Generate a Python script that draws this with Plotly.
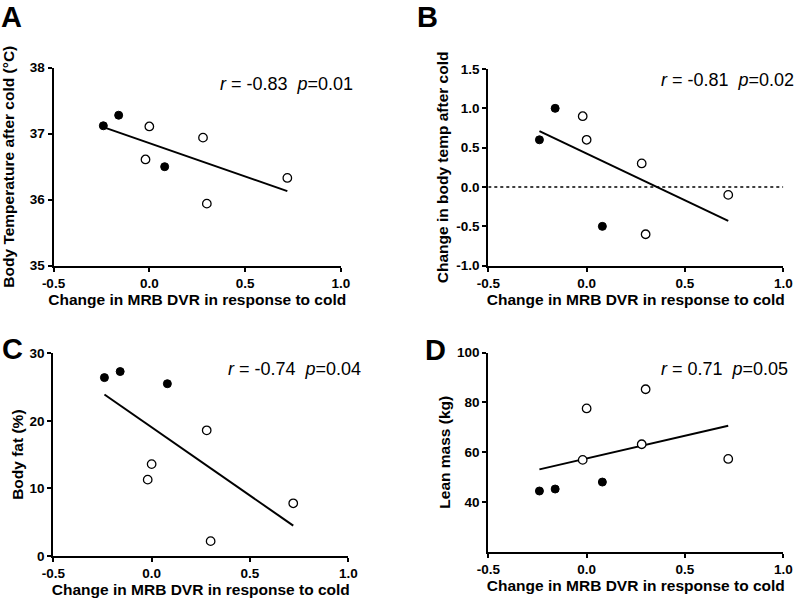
import plotly.graph_objects as go

# ---- data ----
x_filled = [-0.24, -0.16, 0.08]
x_open = [-0.02, 0.0, 0.28, 0.30, 0.72]
fit_x = [-0.24, 0.72]

a_filled = [37.12, 37.28, 36.50]
a_open = [36.61, 37.11, 36.94, 35.94, 36.33]
a_fit = [37.10, 36.13]

b_filled = [0.6, 1.0, -0.5]
b_open = [0.9, 0.6, 0.3, -0.6, -0.1]
b_fit = [0.71, -0.43]

c_filled = [26.4, 27.3, 25.5]
c_open = [11.3, 13.6, 18.6, 2.2, 7.8]
c_fit = [23.9, 4.5]

d_filled = [44.4, 45.2, 48.0]
d_open = [56.9, 77.6, 63.2, 85.3, 57.3]
d_fit = [53.1, 70.6]

stats = ["<i>r</i> = -0.83\u00a0\u00a0<i>p</i>=0.01",
         "<i>r</i> = -0.81\u00a0\u00a0<i>p</i>=0.02",
         "<i>r</i> = -0.74\u00a0\u00a0<i>p</i>=0.04",
         "<i>r</i> = 0.71\u00a0\u00a0<i>p</i>=0.05"]
letters = ["A", "B", "C", "D"]
x_title = "Change in MRB DVR in response to cold"
y_titles = ["Body Temperature after cold (°C)",
            "Change in body temp after cold",
            "Body fat (%)",
            "Lean mass (kg)"]
x_ticks = [-0.5, 0.0, 0.5, 1.0]
x_ticktext = ["-0.5", "0.0", "0.5", "1.0"]
y_ranges = [[35, 38], [-1.0, 1.5], [0, 30], [20, 100]]
y_ticks = [[35, 36, 37, 38], [-1.0, -0.5, 0.0, 0.5, 1.0, 1.5], [0, 10, 20, 30], [40, 60, 80, 100]]
y_ticktext = [["35", "36", "37", "38"],
              ["-1.0", "-0.5", "0.0", "0.5", "1.0", "1.5"],
              ["0", "10", "20", "30"],
              ["40", "60", "80", "100"]]

W, H = 800, 602
# plot areas in pixels: (x0, x1, ytop, ybottom)
areas = [(53.5, 341, 67.7, 265.7),
         (488.3, 783.3, 69, 265.7),
         (53.3, 348.3, 353.3, 556),
         (488.3, 783.3, 352.7, 551.7)]
y_title_standoff = [11.5, 4, 2, 3]

FONT = "Liberation Sans, Arial, sans-serif"
fig = go.Figure()

panels = [(a_filled, a_open, a_fit), (b_filled, b_open, b_fit),
          (c_filled, c_open, c_fit), (d_filled, d_open, d_fit)]

for i, (yf, yo, yl) in enumerate(panels):
    xa = "x" if i == 0 else f"x{i+1}"
    ya = "y" if i == 0 else f"y{i+1}"
    fig.add_trace(go.Scatter(x=fit_x, y=yl, mode="lines", xaxis=xa, yaxis=ya,
                             line=dict(color="black", width=2), showlegend=False))
    fig.add_trace(go.Scatter(x=x_filled, y=yf, mode="markers", xaxis=xa, yaxis=ya,
                             marker=dict(color="black", size=8, line=dict(color="black", width=1)),
                             showlegend=False))
    fig.add_trace(go.Scatter(x=x_open, y=yo, mode="markers", xaxis=xa, yaxis=ya,
                             marker=dict(color="white", size=8.5, line=dict(color="black", width=1.3)),
                             showlegend=False))

layout = {}
for i, (x0, x1, yt, yb) in enumerate(areas):
    kx = "xaxis" if i == 0 else f"xaxis{i+1}"
    ky = "yaxis" if i == 0 else f"yaxis{i+1}"
    anchor_x = "y" if i == 0 else f"y{i+1}"
    anchor_y = "x" if i == 0 else f"x{i+1}"
    layout[kx] = dict(domain=[x0 / W, x1 / W], anchor=anchor_x, range=[-0.5, 1.0],
                      tickvals=x_ticks, ticktext=[f"<b>{t}</b>" for t in x_ticktext],
                      showgrid=False, zeroline=False,
                      showline=True, linecolor="black", linewidth=2,
                      ticks="outside", ticklen=4, tickwidth=2, tickcolor="black",
                      tickfont=dict(family=FONT, size=13.5, color="black"),
                      title=dict(text=f"<b>{x_title}</b>", standoff=0,
                                 font=dict(family=FONT, size=15.5, color="black")),
                      automargin=False, fixedrange=True)
    layout[ky] = dict(domain=[1 - yb / H, 1 - yt / H], anchor=anchor_y, range=y_ranges[i],
                      tickvals=y_ticks[i], ticktext=[f"<b>{t}</b>" for t in y_ticktext[i]],
                      showgrid=False, zeroline=False,
                      showline=True, linecolor="black", linewidth=2,
                      ticks="outside", ticklen=4, tickwidth=2, tickcolor="black",
                      tickfont=dict(family=FONT, size=13.5, color="black"),
                      title=dict(text=f"<b>{y_titles[i]}</b>", standoff=y_title_standoff[i],
                                 font=dict(family=FONT, size=15.5, color="black")),
                      automargin=False, fixedrange=True)

annotations = []
stat_pos = [(218, 84), (659, 80), (226, 369), (659, 369)]
letter_pos = [(0, 0), (416, 0), (1, 332), (424, 333)]
for i in range(4):
    sx, sy = stat_pos[i]
    annotations.append(dict(text=stats[i], x=sx / W, y=1 - sy / H, xref="paper", yref="paper",
                            xanchor="left", yanchor="middle", showarrow=False,
                            font=dict(family=FONT, size=18, color="black")))
    lx, ly = letter_pos[i]
    annotations.append(dict(text=f"<b>{letters[i]}</b>", x=lx / W, y=1 - ly / H, xref="paper",
                            yref="paper", xanchor="left", yanchor="top", showarrow=False,
                            borderpad=0, font=dict(family=FONT, size=29, color="black")))

fig.update_layout(**layout)
fig.update_layout(
    width=W, height=H, margin=dict(l=0, r=0, t=0, b=0),
    paper_bgcolor="white", plot_bgcolor="white",
    annotations=annotations,
    shapes=[dict(type="line", xref="x2", yref="y2", x0=-0.5, x1=1.0, y0=0, y1=0,
                 line=dict(color="black", width=1.5, dash="dot"), layer="below")],
)

fig.write_html("out.html", config={"displayModeBar": False},
               post_script="document.body.style.margin='0';document.body.style.overflow='hidden';")
